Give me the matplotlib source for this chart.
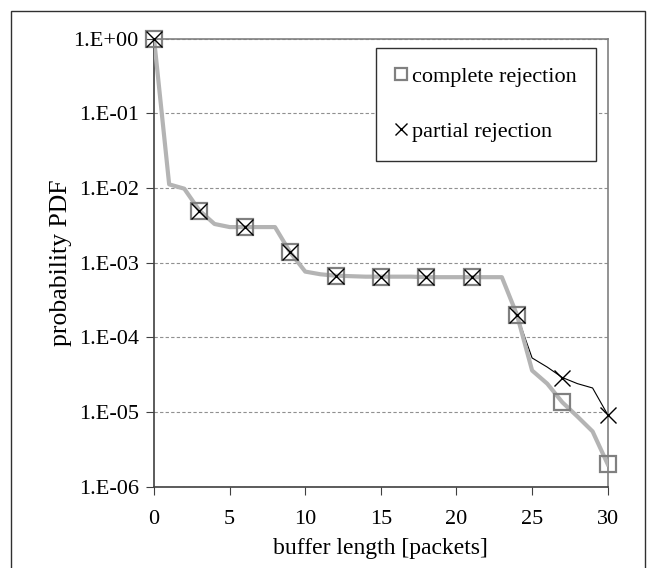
import numpy as np
import matplotlib
matplotlib.use("Agg")
import matplotlib.pyplot as plt
from matplotlib.ticker import FuncFormatter, FixedLocator, NullLocator
from matplotlib.patches import Rectangle

plt.rcParams['font.family'] = ['Liberation Serif', 'DejaVu Serif']

# buffer length in packets
buffer_len = list(range(31))

# probability PDF, complete rejection
complete = [1.0, 1.12e-2, 9.8e-3, 5.0e-3, 3.3e-3, 3.0e-3, 3.0e-3, 3.0e-3, 3.0e-3,
            1.38e-3, 7.6e-4, 7.0e-4, 6.7e-4, 6.6e-4, 6.5e-4, 6.5e-4, 6.5e-4,
            6.5e-4, 6.4e-4, 6.4e-4, 6.4e-4, 6.4e-4, 6.4e-4, 6.4e-4, 2.0e-4,
            3.6e-5, 2.4e-5, 1.35e-5, 8.7e-6, 5.5e-6, 2.0e-6]

# probability PDF, partial rejection
partial = complete[:25] + [5.3e-5, 4.0e-5, 2.9e-5, 2.4e-5, 2.1e-5, 9.2e-6]

marker_every = list(range(0, 31, 3))

fig = plt.figure(figsize=(6.56, 5.68), dpi=100)
# outer frame around the whole chart
fig.patches.append(Rectangle((11 / 656, -0.01), 634 / 656, 1 - 11 / 568 + 0.01,
                             transform=fig.transFigure, fill=False,
                             edgecolor='#303030', linewidth=1.0))

ax = fig.add_axes([0.2348, 0.1431, 0.6916, 0.7888])

ax.plot(buffer_len, partial, color='black', lw=0.8, zorder=2)
ax.plot(buffer_len, complete, color='#b4b4b4', lw=3.0, zorder=3)

cx = [buffer_len[i] for i in marker_every]
ax.plot(cx, [complete[i] for i in marker_every], ls='none', marker='s', ms=12,
        mfc='none', mec='#808080', mew=1.6, zorder=4, clip_on=False,
        label='complete rejection')
ax.plot(cx, [partial[i] for i in marker_every], ls='none', marker='x', ms=12,
        color='black', mew=1.0, zorder=5, clip_on=False,
        label='partial rejection')

ax.set_yscale('log')
ax.set_ylim(1e-6, 1.0)
ax.set_xlim(0, 30)
ax.yaxis.set_major_locator(FixedLocator([10.0 ** k for k in range(-6, 1)]))
ax.yaxis.set_minor_locator(NullLocator())
ax.yaxis.set_major_formatter(FuncFormatter(
    lambda v, p: "1.E%+03d" % int(round(np.log10(v)))))
ax.set_xticks(range(0, 31, 5))

ax.grid(axis='y', ls=(0, (3, 2)), color='#909090', lw=0.8)
ax.tick_params(axis='both', labelsize=16, direction='out', length=6,
               color='#404040', pad=5)
ax.tick_params(axis='x', pad=11)

for s in ('left', 'bottom'):
    ax.spines[s].set_color('#404040')
    ax.spines[s].set_linewidth(1.2)
for s in ('top', 'right'):
    ax.spines[s].set_color('#808080')
    ax.spines[s].set_linewidth(1.2)

ax.set_xlabel('buffer length [packets]', fontsize=17, labelpad=6)
ax.set_ylabel('probability PDF', fontsize=18.5, labelpad=1)

leg = ax.legend(loc='upper right', bbox_to_anchor=(0.974, 0.98), fontsize=16,
                frameon=True, fancybox=False, framealpha=1, edgecolor='#303030',
                handlelength=0.6, handletextpad=0.2, labelspacing=1.55,
                borderpad=0.85, borderaxespad=0, markerscale=0.7)
leg.get_frame().set_linewidth(1.0)

fig.savefig('out.png', dpi=100)
